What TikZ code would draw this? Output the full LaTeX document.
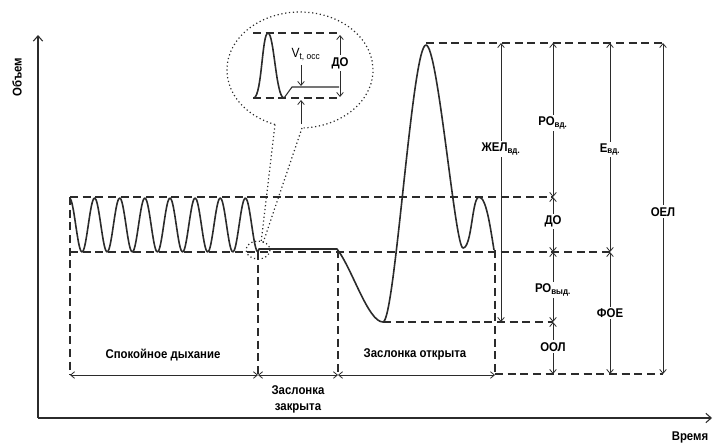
\documentclass[tikz,border=0pt]{standalone}
\usepackage{fontspec}
\setmainfont{Liberation Sans}[FakeStretch=0.9]
\usetikzlibrary{arrows.meta}
\definecolor{ink}{HTML}{2B2B2B}

\begin{document}
\begin{tikzpicture}[
  x=0.75pt, y=-0.75pt,
  curve/.style={draw=ink, line width=1.2pt, line join=round},
  guide/.style={draw=ink, line width=1pt, dash pattern=on 6pt off 3.5pt},
  dim/.style={draw=ink, line width=0.6pt,
              {Straight Barb[length=3pt,width=5pt]}-{Straight Barb[length=3pt,width=5pt]}},
  tip/.style={draw=ink, line width=0.6pt, -{Straight Barb[length=3pt,width=5pt]}},
  lbl/.style={fill=white, inner sep=1.5pt, font=\bfseries\fontsize{9.5}{11}\selectfont},
  txt/.style={inner sep=1pt, align=center, font=\bfseries\fontsize{9.5}{12}\selectfont},
  bubble/.style={draw=ink, line width=0.9pt, dotted},
]
\useasboundingbox (0,0) rectangle (715,446);

% axes
\coordinate (o) at (38,418);
\coordinate (ytip) at (38,35);
\coordinate (xtip) at (712,418);
\draw[ink, line width=0.8pt, -{Straight Barb[length=4pt,width=7pt]}] (o) -- (ytip);
\draw[ink, line width=0.8pt, -{Straight Barb[length=4pt,width=7pt]}] (o) -- (xtip);
\node[txt, rotate=90] (vol) at (17,77) {Объем};
\node[txt] (time) at (690,437) {Время};

% dashed levels
\draw[guide] (70,197) -- (553,197);
\draw[guide] (70,252) -- (610,252);
\draw[guide] (426,43) -- (663,43);
\draw[guide] (383,322) -- (553,322);
\draw[guide] (495,374) -- (663,374);
\draw[guide] (70,197) -- (70,375);
\draw[guide] (258,252) -- (258,375);
\draw[guide] (338,250) -- (338,375);
\draw[guide] (495,250) -- (495,375);

% spirogram
\draw[curve] plot[domain=70:258, samples=160, smooth] (\x, {225+27*cos(14.32*(\x-82))})
  -- (259,249) -- (337,249)
  .. controls (352,268) and (368,322) .. (383,322)
  .. controls (395,322) and (412,45) .. (426,45)
  .. controls (438,45) and (455,248) .. (463,248)
  .. controls (472,248) and (472,197) .. (479,197)
  .. controls (486,197) and (490,225) .. (494,250);

% volumes
\coordinate (zh-t) at (501,43);  \coordinate (zh-b) at (501,322);
\coordinate (a-1) at (553,43);   \coordinate (a-2) at (553,197);
\coordinate (a-3) at (553,252);  \coordinate (a-4) at (553,322);
\coordinate (a-5) at (553,374);
\coordinate (e-1) at (610,43);   \coordinate (e-2) at (610,252);
\coordinate (e-3) at (610,374);
\coordinate (l-1) at (663,43);   \coordinate (l-2) at (663,374);

\draw[dim] (zh-t) -- node[lbl, pos=0.38] (vc) {ЖЕЛ\textsubscript{вд.}} (zh-b);
\draw[dim] (a-1) -- node[lbl, pos=0.52] (irv) {РО\textsubscript{вд.}} (a-2);
\draw[dim] (a-2) -- node[lbl, pos=0.45] (tv) {ДО} (a-3);
\draw[dim] (a-3) -- node[lbl, pos=0.54] (erv) {РО\textsubscript{выд.}} (a-4);
\draw[dim] (a-4) -- node[lbl, pos=0.48] (rv) {ООЛ} (a-5);
\draw[dim] (e-1) -- node[lbl, pos=0.51] (ic) {Е\textsubscript{вд.}} (e-2);
\draw[dim] (e-2) -- node[lbl, pos=0.5] (frc) {ФОЕ} (e-3);
\draw[dim] (l-1) -- node[lbl, pos=0.51] (tlc) {ОЕЛ} (l-2);

% phases
\coordinate (t-0) at (70,375);
\coordinate (t-1) at (258,375);
\coordinate (t-2) at (338,375);
\coordinate (t-3) at (495,375);
\draw[dim] (t-0) -- (t-1);
\draw[dim] (t-1) -- (t-2);
\draw[dim] (t-2) -- (t-3);
\node[txt] (calm) at (163,355) {Спокойное дыхание};
\node[txt] (shut) at (298,399) {Заслонка\\закрыта};
\node[txt] (open) at (415,354) {Заслонка открыта};

% callout
\draw[bubble] (275,124.5) arc[start angle=110, end angle=448.4, x radius=73, y radius=58];
\draw[bubble] (275,124.5) -- (261,243);
\draw[bubble] (302,128) -- (263,243);
\draw[bubble] (258,250) ellipse[x radius=12, y radius=9];

\draw[guide] (253,33) -- (340,33);
\draw[guide] (253,98) -- (340,98);
\draw[curve] (254,98) .. controls (262,95) and (262,33) .. (268,33)
  .. controls (274,33) and (276,98) .. (284,98);
\draw[ink, line width=0.8pt] (284,98) -- (292,87) -- (339,87);
\coordinate (bd-t) at (340,35);
\coordinate (bd-b) at (340,97);
\draw[dim] (bd-t) -- node[lbl, pos=0.45] (btv) {ДО} (bd-b);
\node[inner sep=0pt, font=\fontsize{10}{12}\selectfont] (vt) at (306,55) {V\textsubscript{t, occ}};
\coordinate (vt-s) at (301,65);
\coordinate (vt-e) at (301,86);
\coordinate (up-s) at (301,124);
\coordinate (up-e) at (301,100);
\draw[tip] (vt-s) -- (vt-e);
\draw[tip] (up-s) -- (up-e);
\end{tikzpicture}
\end{document}
